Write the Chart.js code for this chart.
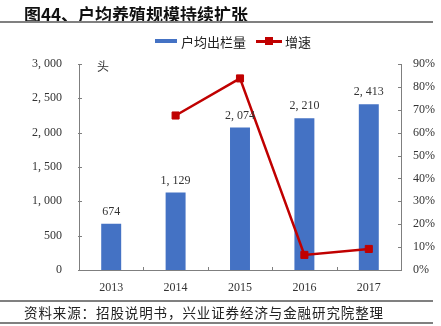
<!DOCTYPE html>
<html>
<head>
<meta charset="utf-8">
<script src="https://cdn.jsdelivr.net/npm/chart.js@4/dist/chart.umd.min.js"></script>
<style>
    body { margin: 0; background: #fff; }
    #wrap { position: relative; width: 441px; height: 326px; overflow: hidden; font-family: "Noto Sans CJK SC", sans-serif; }
    #ticketChart { position: absolute; left: 0; top: 0; }
    .title { position: absolute; left: 24px; top: 1px; font-size: 17px; font-weight: bold; color: #111; }
    .rule { position: absolute; left: 0; width: 433px; background: #808080; }
    .legend { position: absolute; top: 32px; left: 155px; font-size: 13px; color: #222; display: flex; align-items: center; height: 18px; }
    .legend .barKey { width: 22px; height: 4px; background: #4472C4; margin-right: 4px; }
    .legend .lineKey { position: relative; width: 26px; height: 3px; background: #C00000; margin: 0 3px 0 10px; }
    .legend .lineKey::after { content: ""; position: absolute; left: 9px; top: -3px; width: 8px; height: 8px; background: #C00000; }
    .unit { position: absolute; left: 97px; top: 57px; font-size: 12px; color: #333; }
    .source { position: absolute; left: 24px; top: 302px; font-size: 13.5px; letter-spacing: 0.9px; color: #222; }
</style>
</head>
<body>
<div id="wrap">
    <canvas id="ticketChart" width="441" height="326"></canvas>
    <div class="title">图44、户均养殖规模持续扩张</div>
    <div class="rule" style="top:21px;height:2px;"></div>
    <div class="legend">
        <span class="barKey"></span><span>户均出栏量</span>
        <span class="lineKey"></span><span>增速</span>
    </div>
    <div class="unit">头</div>
    <div class="rule" style="top:300px;height:2px;"></div>
    <div class="source">资料来源：招股说明书，兴业证券经济与金融研究院整理</div>
    <div class="rule" style="top:322px;height:1.5px;"></div>
</div>
<script>
const years = ['2013', '2014', '2015', '2016', '2017'];
const perFarmOutput = [674, 1129, 2074, 2210, 2413];
const growthRate = [null, 67.5, 83.7, 6.6, 9.2];
const leftTicks = [0, 500, 1000, 1500, 2000, 2500, 3000];
const rightTicks = [0, 10, 20, 30, 40, 50, 60, 70, 80, 90];

const axisColor = '#7f7f7f';
const textColor = '#333';
const numberFont = { family: '"Liberation Serif", serif', size: 12 };

function formatThousands(value) {
    return value.toLocaleString('en-US').replace(',', ', ');
}

// short tick marks pointing into the plot area
const innerTicks = {
    id: 'innerTicks',
    afterDraw(chart) {
        const ctx = chart.ctx;
        const area = chart.chartArea;
        const len = 3;
        ctx.save();
        ctx.strokeStyle = axisColor;
        ctx.lineWidth = 1;
        ctx.beginPath();
        leftTicks.forEach(v => {
            const y = Math.round(chart.scales.y.getPixelForValue(v)) + 0.5;
            ctx.moveTo(area.left - 1, y);
            ctx.lineTo(area.left + len, y);
        });
        rightTicks.forEach(v => {
            const y = Math.round(chart.scales.y1.getPixelForValue(v)) + 0.5;
            ctx.moveTo(area.right - len, y);
            ctx.lineTo(area.right, y);
        });
        for (let i = 0; i <= years.length; i++) {
            const px = Math.round(area.left + (area.right - area.left) * i / years.length) + 0.5;
            ctx.moveTo(px, area.bottom);
            ctx.lineTo(px, area.bottom - len);
        }
        ctx.stroke();
        ctx.restore();
    }
};

const barLabels = {
    id: 'barLabels',
    afterDatasetsDraw(chart) {
        const ctx = chart.ctx;
        const meta = chart.getDatasetMeta(1);
        ctx.save();
        ctx.font = `${numberFont.size}px ${numberFont.family}`;
        ctx.fillStyle = textColor;
        ctx.textAlign = 'center';
        ctx.textBaseline = 'middle';
        meta.data.forEach((bar, i) => {
            ctx.fillText(formatThousands(perFarmOutput[i]), bar.x, bar.y - 12);
        });
        ctx.restore();
    }
};

const ctx = document.getElementById('ticketChart').getContext('2d');
const outputChart = new Chart(ctx, {
    type: 'bar',
    data: {
        labels: years,
        datasets: [
            {
                type: 'line',
                label: '增速',
                data: growthRate,
                yAxisID: 'y1',
                borderColor: '#C00000',
                backgroundColor: '#C00000',
                borderWidth: 2.5,
                pointStyle: 'rect',
                pointRadius: 5,
                pointBorderWidth: 1,
                tension: 0,
                order: 0,
            },
            {
                label: '户均出栏量',
                data: perFarmOutput,
                yAxisID: 'y',
                backgroundColor: '#4472C4',
                barPercentage: 0.31,
                categoryPercentage: 1,
                order: 1,
            },
        ],
    },
    options: {
        responsive: false,
        animation: false,
        layout: { padding: { top: 64, bottom: 26, left: 0, right: 0 } },
        plugins: {
            legend: { display: false },
            tooltip: { enabled: false },
        },
        scales: {
            x: {
                offset: true,
                grid: { display: false, drawTicks: false },
                border: { display: true, color: axisColor, width: 1 },
                ticks: { color: textColor, font: numberFont, padding: 11 },
                afterFit(scale) { scale.height = 30; },
            },
            y: {
                position: 'left',
                min: 0,
                max: 3000,
                grid: { display: false, drawTicks: false },
                border: { display: true, color: axisColor, width: 1 },
                ticks: {
                    stepSize: 500,
                    color: textColor,
                    font: numberFont,
                    padding: 17,
                    callback: value => formatThousands(value),
                },
                afterFit(scale) { scale.width = 79; },
            },
            y1: {
                position: 'right',
                min: 0,
                max: 90,
                grid: { display: false, drawTicks: false },
                border: { display: true, color: axisColor, width: 1 },
                ticks: {
                    stepSize: 10,
                    color: textColor,
                    font: numberFont,
                    padding: 12,
                    callback: value => value + '%',
                },
                afterFit(scale) { scale.width = 40; },
            },
        },
    },
    plugins: [innerTicks, barLabels],
});
</script>
</body>
</html>
